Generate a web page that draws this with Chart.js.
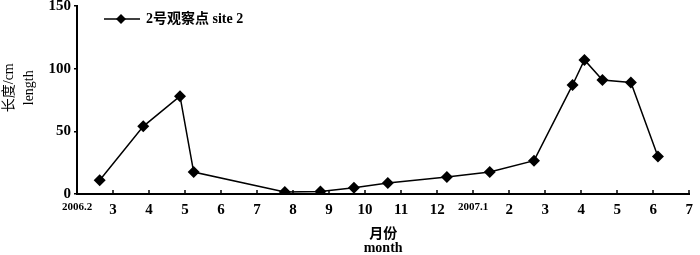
<!DOCTYPE html>
<html>
<head>
<meta charset="utf-8">
<script src="https://cdn.jsdelivr.net/npm/chart.js@4/dist/chart.umd.min.js"></script>
<style>
  html, body { margin: 0; padding: 0; background: #fff; }
  #wrap { width: 700px; height: 255px; position: relative; }
</style>
</head>
<body>
<div id="wrap"><canvas id="c"></canvas></div>
<script>
// month position on the axis (0 = 2006.2, 1 step = 1 month)
const monthPos = [0.63, 1.84, 2.86, 3.24, 5.77, 6.76, 7.69, 8.63, 10.27, 11.46, 12.69, 13.76, 14.09, 14.59, 15.38, 16.13]
const lengthCm = [11, 54, 78, 17.5, 1.6, 2, 5, 8.7, 13.5, 17.5, 26.6, 87, 107, 91, 89, 30]
const monthLabels = ["2006.2","3","4","5","6","7","8","9","10","11","12","2007.1","2","3","4","5","6","7"]
const seriesName = "2号观察点 site 2"

const serif = "'Liberation Serif', 'Noto Sans CJK SC', serif"

// legend glyph: line with a diamond on it
function legendGlyph(){
    const cv = document.createElement('canvas')
    cv.width = 54; cv.height = 14
    const g = cv.getContext('2d')
    g.strokeStyle = '#000'; g.lineWidth = 1.5
    g.beginPath(); g.moveTo(17, 7); g.lineTo(53, 7); g.stroke()
    g.fillStyle = '#000'
    g.beginPath(); g.moveTo(34, 2); g.lineTo(39, 7); g.lineTo(34, 12); g.lineTo(29, 7); g.closePath(); g.fill()
    return cv
}
const glyph = legendGlyph()

// short tick marks pointing into the plot on the x axis
const innerTicks = {
    id: 'innerTicks',
    afterDraw(chart){
        const x = chart.scales.x, ctx = chart.ctx
        ctx.save()
        ctx.strokeStyle = '#000'; ctx.lineWidth = 1.5
        for(let i=1;i<monthLabels.length;i++){
            const px = Math.round(x.getPixelForValue(i))
            ctx.beginPath(); ctx.moveTo(px, x.top); ctx.lineTo(px, x.top-4); ctx.stroke()
        }
        ctx.restore()
    }
}

new Chart(document.getElementById('c'), {
    type: 'line',
    data: {
        datasets: [{
            label: seriesName,
            data: monthPos.map((m,i)=>({x:m, y:lengthCm[i]})),
            borderColor: '#000',
            backgroundColor: '#000',
            borderWidth: 1.5,
            pointStyle: 'rectRot',
            pointRadius: 6,
            pointBackgroundColor: '#000',
            pointBorderWidth: 0,
            tension: 0
        }]
    },
    options: {
        responsive: true,
        maintainAspectRatio: false,
        animation: false,
        layout: { padding: { left: 0, right: 4, top: 0, bottom: 0 } },
        plugins: {
            legend: {
                position: 'chartArea',
                align: 'start',
                labels: {
                    usePointStyle: true,
                    pointStyleWidth: 50,
                    padding: 12,
                    color: '#000',
                    font: { family: serif, size: 14, weight: 'bold' },
                    generateLabels: (chart) => [{
                        text: seriesName, pointStyle: glyph, fontColor: '#000',
                        lineWidth: 0, strokeStyle: 'transparent', fillStyle: 'transparent', datasetIndex: 0
                    }]
                }
            },
            tooltip: { enabled: false }
        },
        scales: {
            x: {
                type: 'linear',
                min: 0, max: 17,
                afterFit: (s) => { s.height = 61 },
                border: { color: '#000', width: 2 },
                grid: { display: false, drawTicks: false },
                ticks: {
                    stepSize: 1,
                    autoSkip: false,
                    maxRotation: 0,
                    padding: 7,
                    color: '#000',
                    font: (ctx) => {
                        const lbl = monthLabels[ctx.tick ? ctx.tick.value : 0] || ''
                        return lbl.indexOf('.') > 0 ? { family: serif, size: 11, weight: 'bold' } : { family: serif, size: 15, weight: 'bold' }
                    },
                    callback: (v) => monthLabels[v]
                },
                title: {
                    display: true,
                    text: ['月份', 'month'],
                    color: '#000',
                    font: { family: serif, size: 14, weight: 'bold', lineHeight: 1.0 },
                    padding: { top: 0, bottom: 0 }
                }
            },
            y: {
                min: 0, max: 150,
                afterFit: (s) => { s.width = 77 },
                border: { color: '#000', width: 2 },
                grid: { drawOnChartArea: false, tickLength: 3, color: '#000', lineWidth: 1.5 },
                ticks: {
                    stepSize: 50,
                    padding: 3,
                    color: '#000',
                    font: { family: serif, size: 15, weight: 'bold', lineHeight: 0.4 }
                },
                title: {
                    display: true,
                    text: ['       长度/cm', '       length'],
                    color: '#000',
                    font: { family: serif, size: 14, lineHeight: 1.4 },
                    padding: 0
                }
            }
        }
    },
    plugins: [innerTicks]
});
</script>
</body>
</html>
